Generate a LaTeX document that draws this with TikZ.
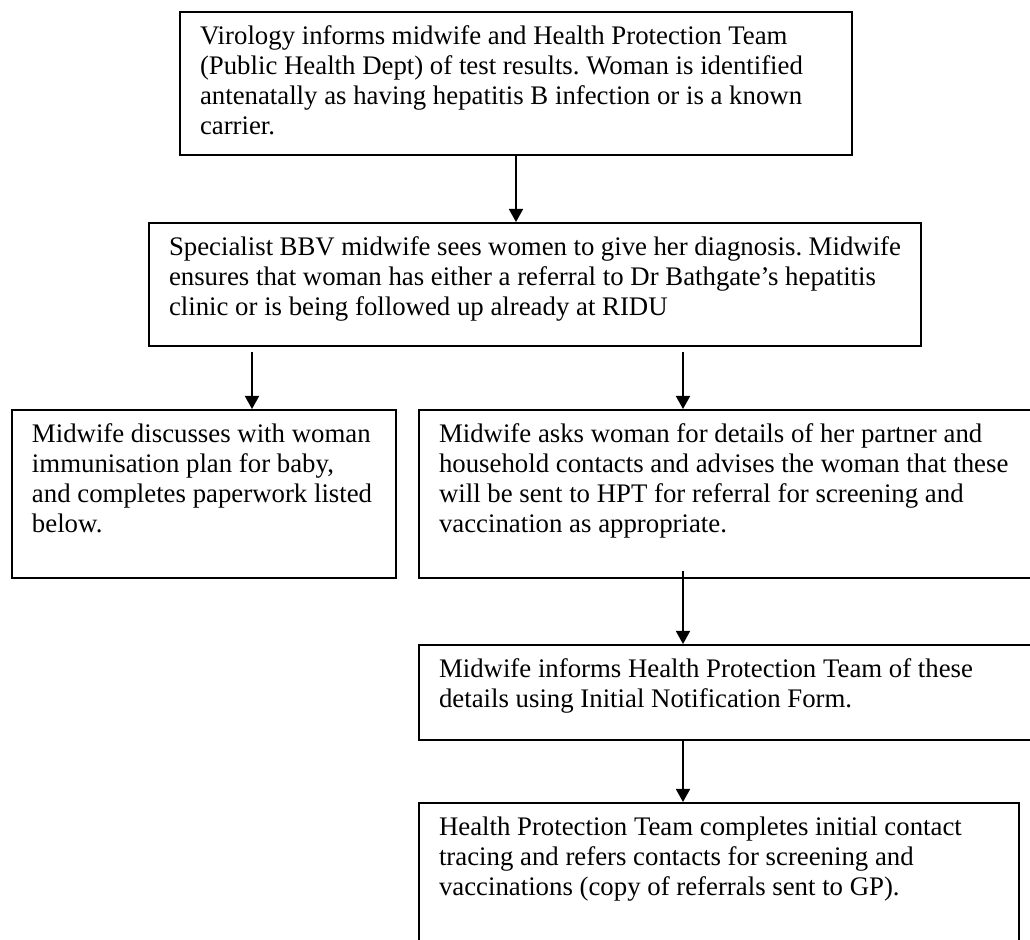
\documentclass[tikz,border=0pt]{standalone}
\usepackage{fontspec}
\setmainfont{Liberation Serif}
\usetikzlibrary{arrows.meta,positioning}

\newcommand{\boxtext}[3]{\begin{minipage}[c][#2][t]{#1}\raggedright\frenchspacing #3\end{minipage}}

\begin{document}
\begin{tikzpicture}[x=0.5pt,y=-0.5pt,
    stepbox/.style={draw,rectangle,line width=1pt,anchor=north west,inner xsep=10pt,inner ysep=7pt,
      font=\fontsize{13.4pt}{15pt}\selectfont},
    arr/.style={-{Triangle[length=6.5pt,width=7pt]},line width=0.8pt}]
  \useasboundingbox (0,0) rectangle (1030,940);

  \node[stepbox] (viro) at (179,11) {\boxtext{316pt}{57.5pt}{Virology informs midwife and Health Protection Team\\(Public Health Dept) of test results. Woman is identified\\antenatally as having hepatitis B infection or is a known\\carrier.}};
  \node[stepbox] (bbv) at (148,222) {\boxtext{366pt}{47.5pt}{Specialist BBV midwife sees women to give her diagnosis. Midwife\\ensures that woman has either a referral to Dr Bathgate’s hepatitis\\clinic or is being followed up already at RIDU}};
  \node[stepbox] (plan) at (11,409) {\boxtext{172pt}{70pt}{Midwife discusses with woman\\immunisation plan for baby,\\and completes paperwork listed\\below.}};
  \node[stepbox] (contacts) at (418,409) {\boxtext{291pt}{70pt}{Midwife asks woman for details of her partner and\\household contacts and advises the woman that these\\will be sent to HPT for referral for screening and\\vaccination as appropriate.}};
  \node[stepbox] (notify) at (418,644) {\boxtext{291pt}{33.5pt}{Midwife informs Health Protection Team of these\\details using Initial Notification Form.}};
  \node[stepbox] (hpt) at (418,802) {\boxtext{280pt}{60pt}{Health Protection Team completes initial contact\\tracing and refers contacts for screening and\\vaccinations (copy of referrals sent to GP).}};

  \coordinate (lt) at ([xshift=24pt]plan.north); % left branch
  \coordinate (rt) at ([xshift=132.5pt]contacts.north west); % right branch

  \draw[arr] (viro.south) -- (viro.south |- bbv.north);
  \draw[arr] ([yshift=-2.5pt]bbv.south -| lt) -- (lt);
  \draw[arr] ([yshift=-2.5pt]bbv.south -| rt) -- (rt);
  \draw[arr] ([yshift=4pt]contacts.south -| rt) -- (notify.north -| rt);
  \draw[arr] (notify.south -| rt) -- (hpt.north -| rt);
\end{tikzpicture}
\end{document}
